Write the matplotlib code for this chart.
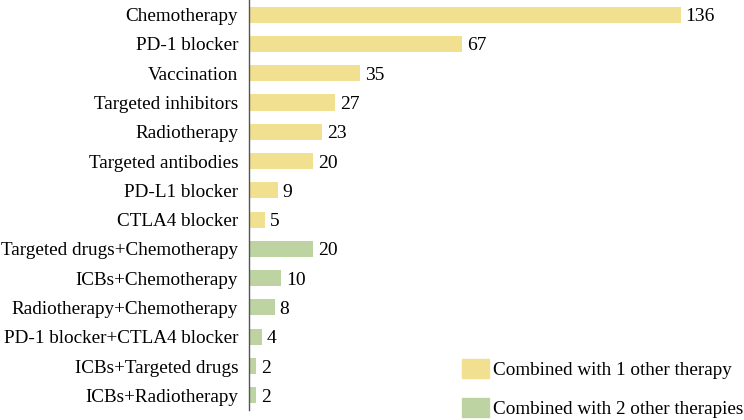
import matplotlib.pyplot as plt
from matplotlib.patches import Patch

plt.rcParams['font.family'] = ['Liberation Serif', 'DejaVu Serif']

one_other = ['Chemotherapy', 'PD-1 blocker', 'Vaccination', 'Targeted inhibitors',
             'Radiotherapy', 'Targeted antibodies', 'PD-L1 blocker', 'CTLA4 blocker']
one_counts = [136, 67, 35, 27, 23, 20, 9, 5]
two_other = ['Targeted drugs+Chemotherapy', 'ICBs+Chemotherapy', 'Radiotherapy+Chemotherapy',
             'PD-1 blocker+CTLA4 blocker', 'ICBs+Targeted drugs', 'ICBs+Radiotherapy']
two_counts = [20, 10, 8, 4, 2, 2]

yellow = '#f1e08f'
green = '#bdd4a2'

labels = one_other + two_other
counts = one_counts + two_counts
colors = [yellow] * len(one_other) + [green] * len(two_other)

fig = plt.figure(figsize=(7.44, 4.2), dpi=100)
ax = fig.add_axes([0.335, 0.024, 0.665, 0.976])

pos = list(range(len(labels)))
ax.barh(pos, counts, height=0.55, color=colors)
for p, c in zip(pos, counts):
    ax.text(c + 1.6, p, str(c), va='center_baseline', ha='left', fontsize=14)

ax.set_yticks(pos)
ax.set_yticklabels(labels, fontsize=13.8)
ax.tick_params(axis='y', length=0, pad=8)
ax.set_ylim(len(labels) - 0.5, -0.5)
ax.set_xlim(0, 156)
ax.set_xticks([])
for side in ['top', 'right', 'bottom']:
    ax.spines[side].set_visible(False)
ax.spines['left'].set_color('#555555')
ax.spines['left'].set_linewidth(1.0)

handles = [Patch(color=yellow, label='Combined with 1 other therapy'),
           Patch(color=green, label='Combined with 2 other therapies')]
fig.legend(handles=handles, loc='lower left', bbox_to_anchor=(0.603, -0.027),
           frameon=False, fontsize=13.8, handlelength=1.42, handleheight=1.1,
           handletextpad=0.22, labelspacing=1.0, borderpad=0.2)

fig.savefig('out.png', dpi=100)
